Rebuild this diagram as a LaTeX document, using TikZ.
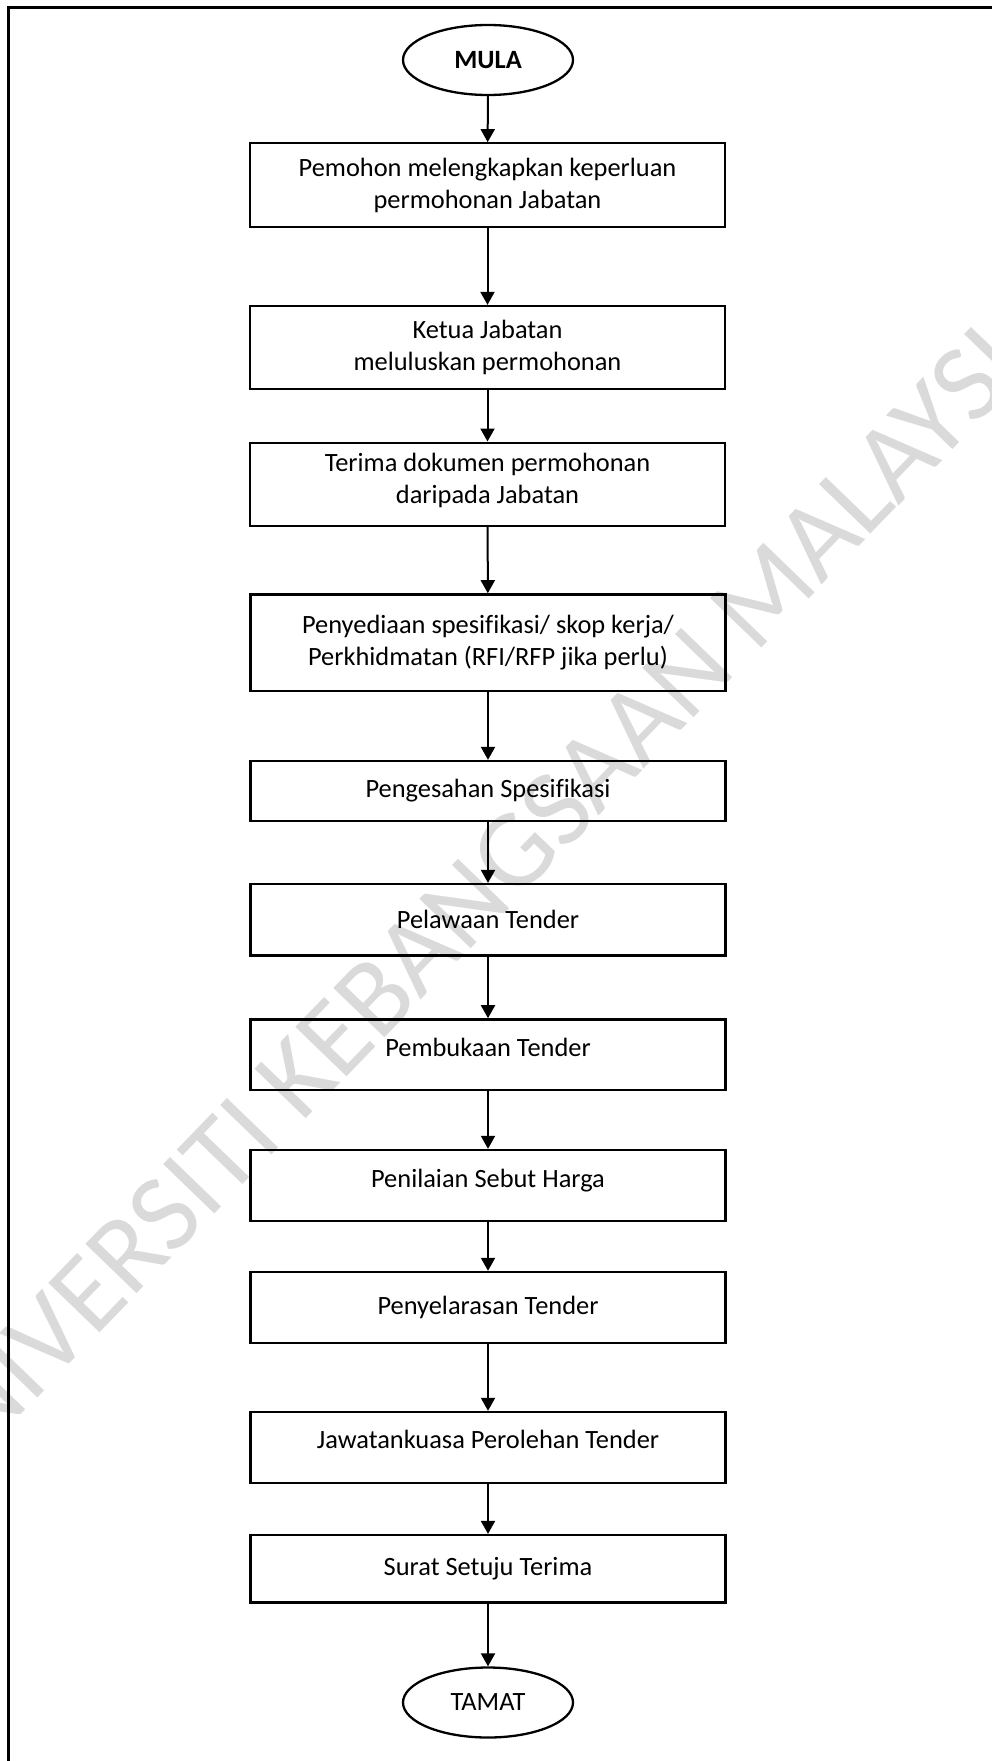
\documentclass[tikz,border=0pt]{standalone}
\usepackage{fontspec}
\setmainfont{Carlito}[Ligatures=CommonOff]
\usetikzlibrary{arrows.meta,shapes.geometric}
\definecolor{wmgray}{RGB}{218,218,218}
\begin{document}
\begin{tikzpicture}[x=1pt,y=-1pt,
  steptext/.style={align=center,inner sep=0pt,font=\fontsize{26.4}{32.5}\selectfont},
  stepbox/.style={draw,line width=2.3pt,minimum width=475pt,steptext},
  terminal/.style={draw,ellipse,line width=2.3pt,minimum width=170pt,minimum height=70pt,steptext},
  flow/.style={line width=2pt,-{Triangle[length=13pt,width=14pt]}},
  frameline/.style={line width=3pt},
  watermark/.style={text=wmgray,font=\fontsize{111}{111}\selectfont,rotate=46,inner sep=0pt}]
\useasboundingbox (0,0) rectangle (992,1761);

% background watermark and page frame
\begin{scope}
  \clip (0,0) rectangle (992,1761);
  \node[watermark] (wm) at (477,891) {UNIVERSITI KEBANGSAAN MALAYSIA};
  \draw[frameline] (8,1770) -- (8,7.3) -- (1000,7.3);
\end{scope}

% process steps
\node[terminal] (mula) at (488,60) {\bfseries MULA};
\node[stepbox,minimum height=84pt] (b1) at (487.5,185.3) {Pemohon melengkapkan keperluan\\permohonan Jabatan};
\node[stepbox,minimum height=83pt] (b2) at (487.5,347.5) {Ketua Jabatan\\meluluskan permohonan};
\node[stepbox,minimum height=83.3pt,
  label={[steptext,yshift=4pt]center:Terima dokumen permohonan\\daripada Jabatan}] (b3) at (487.5,484.3) {};
\node[stepbox,minimum height=96.7pt] (b4) at (488,642.7) {Penyediaan spesifikasi/ skop kerja/\\Perkhidmatan (RFI/RFP jika perlu)};
\node[stepbox,minimum height=60pt] (b5) at (488,791) {Pengesahan Spesifikasi};
\node[stepbox,minimum height=71.3pt] (b6) at (488,919.7) {Pelawaan Tender};
\node[stepbox,minimum height=70.7pt,
  label={[steptext,yshift=7pt]center:Pembukaan Tender}] (b7) at (488,1054.7) {};
\node[stepbox,minimum height=70.7pt,
  label={[steptext,yshift=5pt]center:Penilaian Sebut Harga}] (b8) at (488,1185.3) {};
\node[stepbox,minimum height=70.7pt] (b9) at (488,1307.3) {Penyelarasan Tender};
\node[stepbox,minimum height=70.7pt,
  label={[steptext,yshift=8pt]center:Jawatankuasa Perolehan Tender}] (b10) at (488,1447.3) {};
\node[stepbox,minimum height=67.3pt] (b11) at (488,1568.7) {Surat Setuju Terima};
\node[terminal] (tamat) at (488,1702.5) {TAMAT};

% connectors
\draw[flow] (mula) -- (b1);
\draw[flow] (b1) -- (b2);
\draw[flow] (b2) -- (b3);
\draw[flow] (b3) -- (b4);
\draw[flow] (b4) -- (b5);
\draw[flow] (b5) -- (b6);
\draw[flow] (b6) -- (b7);
\draw[flow] (b7) -- (b8);
\draw[flow] (b8) -- (b9);
\draw[flow] (b9) -- (b10);
\draw[flow] (b10) -- (b11);
\draw[flow] (b11) -- (tamat);
\end{tikzpicture}
\end{document}
